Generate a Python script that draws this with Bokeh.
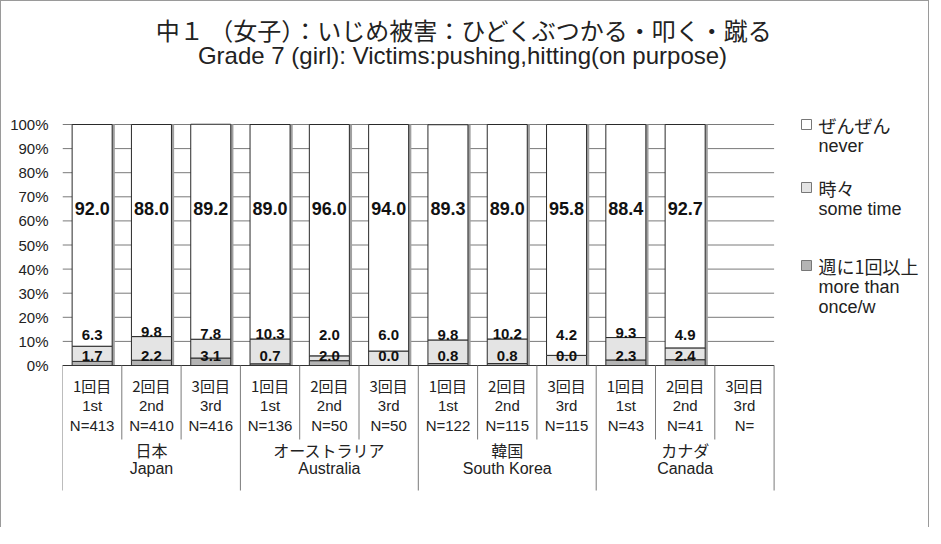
import numpy as np
from bokeh.plotting import figure
from bokeh.models import ColumnDataSource, Range1d, FixedTicker, PrintfTickFormatter
from bokeh.core.properties import value
from bokeh.embed import file_html
from bokeh.resources import INLINE

# ---------------- data ----------------
title_ja = "中１ （女子）：いじめ被害：ひどくぶつかる・叩く・蹴る"
title_en = "Grade 7 (girl): Victims:pushing,hitting(on purpose)"
countries_ja = ["日本", "オーストラリア", "韓国", "カナダ"]
countries_en = ["Japan", "Australia", "South Korea", "Canada"]
rounds_ja = ["1回目", "2回目", "3回目"]
rounds_en = ["1st", "2nd", "3rd"]
n_labels = ["N=413", "N=410", "N=416", "N=136", "N=50", "N=50",
            "N=122", "N=115", "N=115", "N=43", "N=41", "N="]
nan = float("nan")
never = [92.0, 88.0, 89.2, 89.0, 96.0, 94.0, 89.3, 89.0, 95.8, 88.4, 92.7, nan]
sometimes = [6.3, 9.8, 7.8, 10.3, 2.0, 6.0, 9.8, 10.2, 4.2, 9.3, 4.9, nan]
weekly = [1.7, 2.2, 3.1, 0.7, 2.0, 0.0, 0.8, 0.8, 0.0, 2.3, 2.4, nan]
legend_ja = ["ぜんぜん", "時々", "週に1回以上"]
legend_en = [["never"], ["some time"], ["more than", "once/w"]]
y_ticks = list(range(0, 101, 10))

# ---------------- layout helpers (page pixels -> data) ----------------
CANVAS_X0, CANVAS_Y0 = 9, 9      # 8px page margin + 1px border
W, H = 929, 527
FRAME_LEFT = 70.0
SLOT = 59.3
ZERO = 373.0
PX_PER_PCT = 2.41


def X(px):
    return (px - FRAME_LEFT) / SLOT


def Y(py):
    return (ZERO - py) / PX_PER_PCT


n = len(never)
xs = np.arange(n) + 0.5
w = np.array(weekly)
s = np.array(sometimes)
nv = np.array(never)
total = w + s + nv

CJK = value("Noto Sans CJK JP")
SANS = value("Liberation Sans")
NARROW = value("Liberation Sans Narrow, Liberation Sans")

p = figure(width=W, height=H, output_backend="svg", toolbar_location=None,
           x_range=Range1d(X(FRAME_LEFT), X(CANVAS_X0 + W)),
           y_range=Range1d(Y(CANVAS_Y0 + H), Y(CANVAS_Y0)),
           x_axis_location=None, min_border_left=int(FRAME_LEFT - CANVAS_X0),
           min_border_right=0, min_border_top=0, min_border_bottom=0,
           styles={"border-top": "1px solid #9a9a9a",
                   "border-left": "1px solid #9a9a9a",
                   "border-right": "1px solid #9a9a9a"})
p.outline_line_color = None
p.xgrid.visible = False
p.ygrid.visible = False
p.background_fill_color = "white"

yaxis = p.yaxis[0]
yaxis.ticker = FixedTicker(ticks=y_ticks)
yaxis.formatter = PrintfTickFormatter(format="%d%%")
yaxis.axis_line_color = None
yaxis.major_tick_line_color = None
yaxis.minor_tick_line_color = None
yaxis.major_label_standoff = 8
yaxis.major_label_text_font = "Liberation Sans"
yaxis.major_label_text_font_size = "15px"
yaxis.major_label_text_color = "#222222"

# gridlines (only over the category area)
yt = np.array(y_ticks, dtype=float)
p.segment(x0=np.zeros_like(yt), x1=np.full_like(yt, n), y0=yt, y1=yt,
          line_color="#7a7a7a", line_width=1)

# bar shadows
p.vbar(x=xs + 0.045, top=total, bottom=0, width=0.675,
       fill_color="#a0a0a0", line_color=None)

src = ColumnDataSource(dict(x=xs, weekly=w, sometimes=s, never=nv))
p.vbar_stack(["weekly", "sometimes", "never"], x="x", width=0.675, source=src,
             fill_color=["#b4b4b4", "#e4e4e4", "#ffffff"],
             line_color="#2a2a2a", line_width=1)

# axis line & dividers
p.segment(x0=[0], x1=[n], y0=[0], y1=[0], line_color="#333333", line_width=1)
bounds = np.arange(n + 1)
is_group = (bounds % 3 == 0)
p.segment(x0=bounds, x1=bounds, y0=np.zeros(n + 1),
          y1=np.where(is_group, Y(498), Y(447)), line_color="#7a7a7a", line_width=1)

# value labels
valid = ~np.isnan(total)
p.text(x=xs[valid], y=np.full(valid.sum(), 65.0), text=[f"{v:.1f}" for v in nv[valid]],
       text_align="center", text_baseline="middle", text_font=NARROW,
       text_font_style="bold", text_font_size="18px", text_color="#111111")
some_y = np.maximum(w + s + 2.0, 12.5)
p.text(x=xs[valid], y=some_y[valid], text=[f"{v:.1f}" for v in s[valid]],
       text_align="center", text_baseline="middle", text_font=SANS,
       text_font_style="bold", text_font_size="15px", text_color="#111111")
p.text(x=xs[valid], y=np.full(valid.sum(), 4.0), text=[f"{v:.1f}" for v in w[valid]],
       text_align="center", text_baseline="middle", text_font=SANS,
       text_font_style="bold", text_font_size="15px", text_color="#111111")

# category labels
p.text(x=xs, y=np.full(n, Y(393)), text=[rounds_ja[i % 3] for i in range(n)],
       text_align="center", text_baseline="middle", text_font=CJK,
       text_font_size="15px", text_color="#222222")
p.text(x=xs, y=np.full(n, Y(413)), text=[rounds_en[i % 3] for i in range(n)],
       text_align="center", text_baseline="middle", text_font=SANS,
       text_font_size="15px", text_color="#222222")
p.text(x=xs, y=np.full(n, Y(433)), text=n_labels,
       text_align="center", text_baseline="middle", text_font=SANS,
       text_font_size="15px", text_color="#222222")
gx = np.arange(len(countries_ja)) * 3 + 1.5
p.text(x=gx, y=np.full(len(gx), Y(457)), text=countries_ja,
       text_align="center", text_baseline="middle", text_font=CJK,
       text_font_size="16px", text_color="#222222")
p.text(x=gx, y=np.full(len(gx), Y(476)), text=countries_en,
       text_align="center", text_baseline="middle", text_font=SANS,
       text_font_size="16px", text_color="#222222")

# title
p.text(x=[X(472)], y=[Y(37)], text=[title_ja], text_align="center",
       text_baseline="middle", text_font=CJK, text_font_size="24px",
       text_color="#222222")
p.text(x=[X(470)], y=[Y(63)], text=[title_en], text_align="center",
       text_baseline="middle", text_font=SANS, text_font_size="24px",
       text_color="#222222")

# legend
leg_y = [Y(132), Y(195), Y(273)]
p.scatter(x=[X(814)] * 3, y=leg_y, marker="square", size=10,
          fill_color=["#ffffff", "#e4e4e4", "#b4b4b4"], line_color="#777777")
p.text(x=[X(826)] * 3, y=leg_y, text=legend_ja, text_align="left",
       text_baseline="middle", text_font=CJK, text_font_size="18px",
       text_color="#222222")
en_x, en_y, en_t = [], [], []
for k, lines in enumerate(legend_en):
    for j, t in enumerate(lines):
        en_x.append(X(826))
        en_y.append(leg_y[k] - j * 20.5 / PX_PER_PCT - 21 / PX_PER_PCT)
        en_t.append(t)
p.text(x=en_x, y=en_y, text=en_t, text_align="left", text_baseline="middle",
       text_font=SANS, text_font_size="18px", text_color="#222222")

open("out.html", "w").write(file_html(p, INLINE))
